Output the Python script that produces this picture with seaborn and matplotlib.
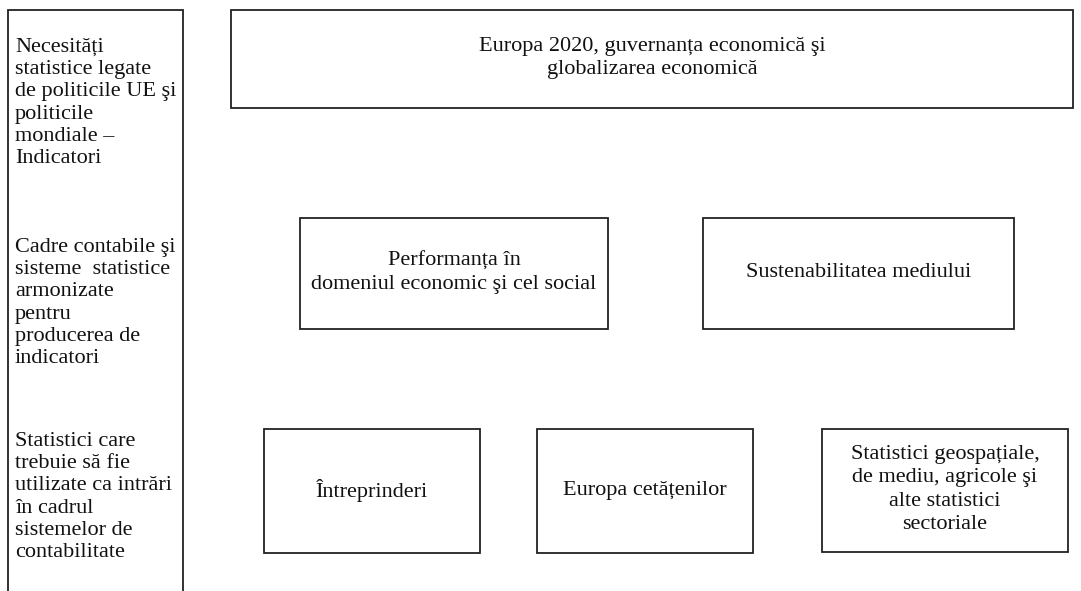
import matplotlib
matplotlib.use("Agg")
import matplotlib.pyplot as plt
from matplotlib.patches import Rectangle
import seaborn as sns

sns.set_style("white")
plt.rcParams['font.family'] = ['Liberation Serif', 'DejaVu Serif']

# ---- content ----
left_labels = [
    "Necesități\nstatistice legate\nde politicile UE şi\npoliticile\nmondiale –\nIndicatori",
    "Cadre contabile şi\nsisteme  statistice\narmonizate\npentru\nproducerea de\nindicatori",
    "Statistici care\ntrebuie să fie\nutilizate ca intrări\nîn cadrul\nsistemelor de\ncontabilitate",
]
top_label = "Europa 2020, guvernanța economică şi\nglobalizarea economică"
mid_labels = ["Performanța în\ndomeniul economic şi cel social",
              "Sustenabilitatea mediului"]
bottom_labels = ["Întreprinderi", "Europa cetățenilor",
                 "Statistici geospațiale,\nde mediu, agricole şi\nalte statistici\nsectoriale"]

# ---- layout (pixel coordinates, y downward) ----
W, H = 1081, 591
left_col = (8, 10, 183)            # x0, y_top, x1 (open at bottom)
left_text_y = [103, 303, 497]
left_text_x = 15
top_box = (231, 10, 1073, 108)
mid_boxes = [(300, 218, 608, 329), (703, 218, 1014, 329)]
bottom_boxes = [(264, 429, 480, 553), (537, 429, 753, 553), (822, 429, 1068, 552)]

fig = plt.figure(figsize=(W / 100, H / 100), dpi=100)
ax = fig.add_axes([0, 0, 1, 1])
ax.set_xlim(0, W)
ax.set_ylim(H, 0)
ax.axis("off")

lw = 1.3
col = "#222222"
fs = 16

# left column: open-bottom frame
x0, yt, x1 = left_col
ax.plot([x0, x0, x1, x1], [H + 5, yt, yt, H + 5], color=col, lw=lw,
        solid_joinstyle="miter")
for lab, y in zip(left_labels, left_text_y):
    ax.text(left_text_x, y, lab, ha="left", va="center", fontsize=fs,
            linespacing=1.24, color="#111111")


def box(b, label):
    bx0, by0, bx1, by1 = b
    ax.add_patch(Rectangle((bx0, by0), bx1 - bx0, by1 - by0, fill=False,
                           edgecolor=col, lw=lw, joinstyle="miter"))
    ax.text((bx0 + bx1) / 2, (by0 + by1) / 2 - 1, label, ha="center",
            va="center", fontsize=fs, linespacing=1.3, color="#111111")


box(top_box, top_label)
for b, lab in zip(mid_boxes, mid_labels):
    box(b, lab)
for b, lab in zip(bottom_boxes, bottom_labels):
    box(b, lab)

fig.savefig("out.png", dpi=100, facecolor="white")
